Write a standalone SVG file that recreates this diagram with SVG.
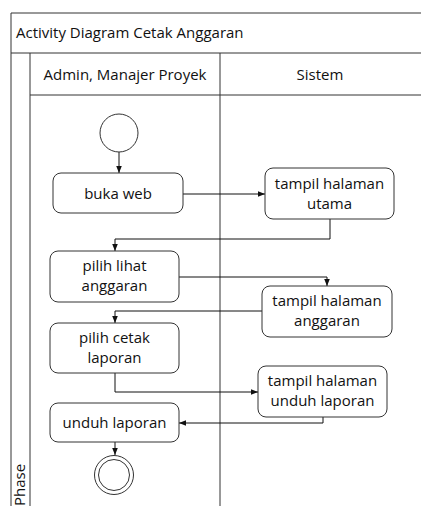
<svg xmlns="http://www.w3.org/2000/svg" width="421" height="506" viewBox="0 0 421 506">
<style>
.frame{fill:none;stroke:#333;stroke-width:1}
.node{fill:#fff;stroke:#333;stroke-width:1}
.t{font-family:"Open Sans","Liberation Sans",sans-serif;font-size:15px;fill:#111;text-anchor:middle}
.conn{fill:none;stroke:#111;stroke-width:1;marker-end:url(#ah)}
</style>
<defs>
<marker id="ah" viewBox="0 0 10 10" refX="10" refY="5" markerWidth="7" markerHeight="7" markerUnits="userSpaceOnUse" orient="auto">
<path d="M0,1 L10,5 L0,9 z" fill="#111"/>
</marker>
</defs>
<rect width="421" height="506" fill="#fff"/>
<g id="frame">
<path class="frame" d="M11,506 V13 H430 M11,53 H430 M30,53 V506 M30,95 H430 M220,53 V506"/>
<text class="t" x="16" y="38" style="text-anchor:start">Activity Diagram Cetak Anggaran</text>
<text class="t" x="125" y="80">Admin, Manajer Proyek</text>
<text class="t" x="320" y="80">Sistem</text>
<text class="t" transform="translate(25,506) rotate(-90)" style="text-anchor:start">Phase</text>
</g>
<g id="connectors">
<path class="conn" d="M119,152 V173"/>
<path class="conn" d="M183,194 H265"/>
<path class="conn" d="M330,219 V239 H115 V251"/>
<path class="conn" d="M179,277 H327 V286"/>
<path class="conn" d="M262,311 H115 V323"/>
<path class="conn" d="M115,373 V392 H258"/>
<path class="conn" d="M323,417 V423 H179"/>
<path class="conn" d="M115,442 V455"/>
</g>
<g id="start"><circle class="node" cx="119" cy="133" r="19"/></g>
<g id="buka-web"><rect class="node" x="53" y="173" width="130" height="40" rx="8"/><text class="t" x="118" y="199">buka web</text></g>
<g id="tampil-utama"><rect class="node" x="265" y="168" width="129" height="51" rx="8"/><text class="t" x="329.5" y="189">tampil halaman</text><text class="t" x="329.5" y="209">utama</text></g>
<g id="pilih-lihat"><rect class="node" x="50" y="251" width="129" height="51" rx="8"/><text class="t" x="114.5" y="271">pilih lihat</text><text class="t" x="114.5" y="291">anggaran</text></g>
<g id="tampil-anggaran"><rect class="node" x="262" y="286" width="130" height="51" rx="8"/><text class="t" x="327" y="306">tampil halaman</text><text class="t" x="327" y="326">anggaran</text></g>
<g id="pilih-cetak"><rect class="node" x="50" y="323" width="129" height="50" rx="8"/><text class="t" x="114.5" y="343">pilih cetak</text><text class="t" x="114.5" y="363">laporan</text></g>
<g id="tampil-unduh"><rect class="node" x="258" y="366" width="129" height="51" rx="8"/><text class="t" x="322.5" y="386">tampil halaman</text><text class="t" x="322.5" y="406">unduh laporan</text></g>
<g id="unduh-laporan"><rect class="node" x="50" y="403" width="129" height="39" rx="8"/><text class="t" x="114.5" y="428">unduh laporan</text></g>
<g id="end"><circle class="node" cx="114" cy="475" r="19.5"/><circle class="node" cx="114" cy="475" r="15.5"/></g>
</svg>
